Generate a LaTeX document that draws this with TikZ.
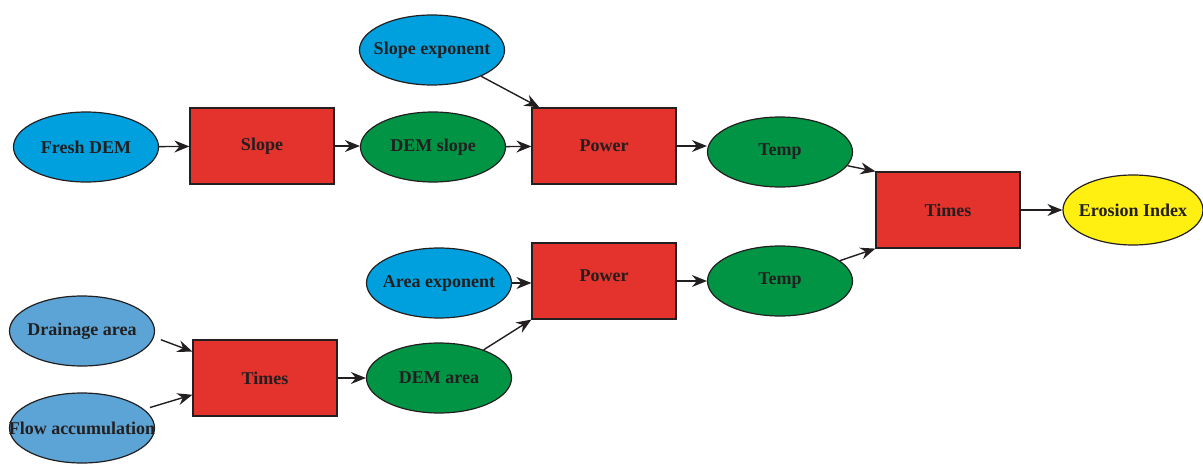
\documentclass[tikz,border=0pt]{standalone}
\usepackage{fontspec}
\setmainfont{Liberation Serif}
\usepackage{xcolor}
\usetikzlibrary{arrows.meta, positioning, shapes.geometric}

\definecolor{inblue}{RGB}{0,160,222}
\definecolor{inlight}{RGB}{91,164,213}
\definecolor{outgreen}{RGB}{0,148,68}
\definecolor{toolred}{RGB}{228,50,45}
\definecolor{resyellow}{RGB}{255,240,18}
\definecolor{ink}{RGB}{35,31,32}

\begin{document}
\begin{tikzpicture}[x=0.5pt, y=-0.5pt,
  font=\fontsize{9}{11}\selectfont\bfseries, text=ink,
  oval/.style={ellipse, draw=ink, line width=0.6pt, inner ysep=0pt,
    inner xsep=-30pt, minimum width=72.5pt, minimum height=35pt},
  tool/.style={rectangle, draw=ink, line width=0.6pt, fill=toolred,
    minimum width=72pt, minimum height=38pt},
  flow/.style={-{Stealth[length=7.5pt, width=6pt, inset=2.5pt]}, line width=0.7pt, ink}
]
  \useasboundingbox (0,0) rectangle (1203,465);

  % inputs
  \node[oval, fill=inblue]  (fdem)  at (86,147)  {Fresh DEM};
  \node[oval, fill=inblue]  (sexp)  at (432,50)  {Slope exponent};
  \node[oval, fill=inblue]  (aexp)  at (439,283) {Area exponent};
  \node[oval, fill=inlight] (drain) at (82,331)  {Drainage area};
  \node[oval, fill=inlight] (facc)  at (82,428)  {Flow accumulation};

  % tools
  \node[tool] (slope)  at (262,146) {Slope};
  \node[tool] (powA)   at (604,146) {Power};
  \node[tool] (powB)   at (604,281) {\raisebox{5pt}{Power}};
  \node[tool] (timesB) at (265,378) {Times};
  \node[tool] (timesC) at (948,210) {Times};

  % intermediate and result
  \node[oval, fill=outgreen]  (dslope) at (433,147) {DEM slope};
  \node[oval, fill=outgreen]  (darea)  at (439,378) {DEM area};
  \node[oval, fill=outgreen]  (tempA)  at (780,152) {Temp};
  \node[oval, fill=outgreen]  (tempB)  at (780,281) {Temp};
  \node[oval, fill=resyellow, minimum width=70pt] (eros) at (1133,210) {Erosion Index};

  \draw[flow] (fdem) -- (slope);
  \draw[flow] (slope) -- (slope -| dslope.west);
  \draw[flow] (dslope) -- (powA);
  \draw[flow] (sexp) -- ([xshift=4pt]powA.north west);
  \draw[flow] (powA) -- (powA -| tempA.west);
  \draw[flow] (tempA) -- (timesC.north west);

  \draw[flow] ([xshift=4pt]drain.-7) -- (timesB.160);
  \draw[flow, shorten <=3pt] (facc) -- (timesB.193);
  \draw[flow] (timesB) -- (timesB -| darea.west);
  \draw[flow] (darea) -- (powB.south west);
  \draw[flow] (aexp) -- (aexp -| powB.west);
  \draw[flow] (powB) -- (powB -| tempB.west);
  \draw[flow] (tempB) -- (timesC.south west);
  \draw[flow] (timesC) -- (eros);
\end{tikzpicture}
\end{document}
